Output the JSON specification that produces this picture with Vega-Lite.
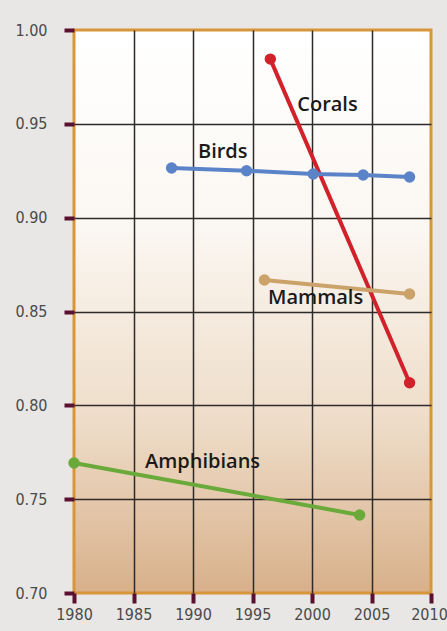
{
  "$schema": "https://vega.github.io/schema/vega-lite/v6.json",
  "width": 357,
  "height": 563,
  "autosize": {"type": "none"},
  "padding": {"left": 74, "top": 30, "right": 16, "bottom": 38},
  "background": "#e8e7e5",
  "config": {
    "view": {
      "fill": {"gradient": "linear", "x1": 0, "y1": 0, "x2": 0, "y2": 1,
        "stops": [{"offset": 0, "color": "#ffffff"}, {"offset": 0.35, "color": "#fbf7f2"}, {"offset": 0.7, "color": "#eedcc8"}, {"offset": 1, "color": "#d8b08a"}]},
      "stroke": "#d8963a",
      "strokeWidth": 3
    },
    "axis": {
      "domain": false,
      "grid": true,
      "gridWidth": 1.5,
      "tickColor": "#5c1030",
      "tickWidth": 4,
      "tickSize": 10,
      "labelFont": "DejaVu Sans Condensed, Liberation Sans Narrow, Roboto, sans-serif",
      "labelFontSize": 16,
      "labelColor": "#4a4a4a",
      "labelFlush": false,
      "labelOverlap": false,
      "title": null
    }
  },
  "datasets": {
    "series": [
      {"group": "Corals", "year": 1996.5, "rli": 0.9845},
      {"group": "Corals", "year": 2008.2, "rli": 0.812},
      {"group": "Birds", "year": 1988.2, "rli": 0.9265},
      {"group": "Birds", "year": 1994.5, "rli": 0.925},
      {"group": "Birds", "year": 2000.1, "rli": 0.9233},
      {"group": "Birds", "year": 2004.3, "rli": 0.9227},
      {"group": "Birds", "year": 2008.2, "rli": 0.9217},
      {"group": "Mammals", "year": 1996.0, "rli": 0.8668},
      {"group": "Mammals", "year": 2008.2, "rli": 0.8593},
      {"group": "Amphibians", "year": 1980.0, "rli": 0.7693},
      {"group": "Amphibians", "year": 2004.0, "rli": 0.7416}
    ],
    "labels": [
      {"group": "Corals", "year": 2001.3, "rli": 0.96},
      {"group": "Birds", "year": 1992.5, "rli": 0.935},
      {"group": "Mammals", "year": 2000.3, "rli": 0.857},
      {"group": "Amphibians", "year": 1990.8, "rli": 0.7698}
    ]
  },
  "encoding": {
    "x": {
      "field": "year", "type": "quantitative",
      "scale": {"domain": [1980, 2010], "nice": false, "zero": false},
      "axis": {
        "values": [1980, 1985, 1990, 1995, 2000, 2005, 2010],
        "format": "d",
        "labelPadding": 3,
        "labelOffset": {"condition": {"test": "datum.value == 2010", "value": -2}, "value": 0},
        "gridColor": {"condition": {"test": "datum.value == 1980 || datum.value == 2010", "value": "transparent"}, "value": "#2e2a2a"}
      }
    },
    "y": {
      "field": "rli", "type": "quantitative",
      "scale": {"domain": [0.7, 1.0], "nice": false, "zero": false},
      "axis": {
        "values": [0.7, 0.75, 0.8, 0.85, 0.9, 0.95, 1.0],
        "format": ".2f",
        "labelPadding": 17,
        "gridColor": {"condition": {"test": "datum.value <= 0.701 || datum.value >= 0.999", "value": "transparent"}, "value": "#2e2a2a"}
      }
    }
  },
  "layer": [
    {
      "data": {"name": "series"},
      "mark": {"type": "line", "strokeWidth": 4, "point": {"size": 130, "filled": true, "opacity": 1}},
      "encoding": {
        "color": {
          "field": "group", "type": "nominal", "legend": null,
          "scale": {"domain": ["Corals", "Birds", "Mammals", "Amphibians"], "range": ["#d1222b", "#5b84c8", "#cba36a", "#6aaa3a"]}
        }
      }
    },
    {
      "data": {"name": "labels"},
      "mark": {"type": "text", "font": "Open Sans", "fontWeight": 600, "fontSize": 20, "color": "#1a1a1a", "align": "center", "baseline": "middle"},
      "encoding": {"text": {"field": "group"}}
    }
  ]
}
